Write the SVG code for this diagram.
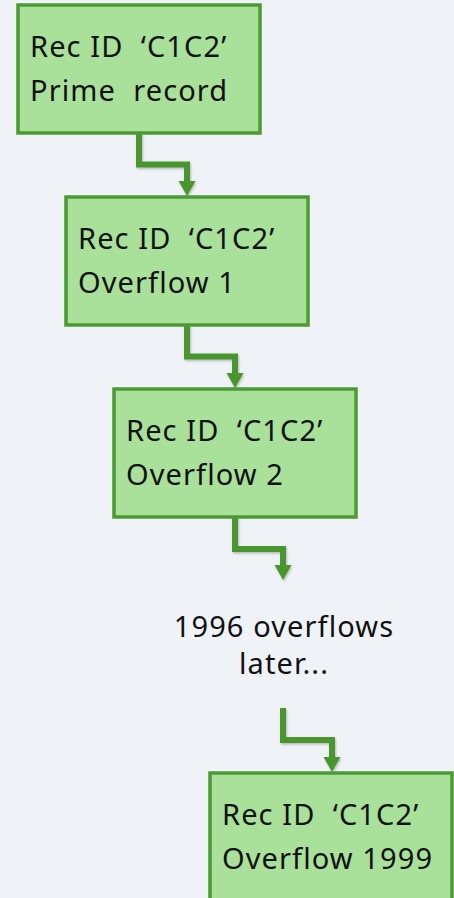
<svg xmlns="http://www.w3.org/2000/svg" width="454" height="898" viewBox="0 0 454 898">
  <defs>
    <style>
      .box { fill: #a9e09a; stroke: #4c9a34; stroke-width: 3.5; }
      .lbl { font-family: "Noto Sans", "Open Sans", sans-serif; font-size: 29px; letter-spacing: 1.1px; fill: #111111; white-space: pre; }
      .mid { text-anchor: middle; }
      .wire { fill: none; stroke: #4a962f; stroke-width: 6; stroke-linejoin: miter; }
      .head { fill: #4a962f; }
    </style>
    <filter id="soft" x="-20%" y="-20%" width="140%" height="140%">
      <feDropShadow dx="1" dy="1.5" stdDeviation="1.2" flood-color="#000000" flood-opacity="0.25"/>
    </filter>
  </defs>

  <rect x="0" y="0" width="454" height="898" fill="#eff3f7"/>

  <!-- connectors: elbow lines with arrowheads -->
  <g id="connectors" filter="url(#soft)">
    <path class="wire" d="M139 133 V164.5 H187 V182"/>
    <polygon class="head" points="178.5,181 195.5,181 187,196"/>

    <path class="wire" d="M187 325 V356.5 H235 V374"/>
    <polygon class="head" points="226.5,373 243.5,373 235,388"/>

    <path class="wire" d="M235 517 V549 H283 V566"/>
    <polygon class="head" points="274.5,565 291.5,565 283,580"/>

    <path class="wire" d="M283 708 V740 H332 V758"/>
    <polygon class="head" points="323.5,757 340.5,757 332,772"/>
  </g>

  <g id="prime">
    <rect class="box" x="18" y="5" width="242" height="128"/>
    <text class="lbl" x="30" y="57" xml:space="preserve">Rec ID  ‘C1C2’</text>
    <text class="lbl" x="30" y="101" xml:space="preserve">Prime  record</text>
  </g>

  <g id="overflow1">
    <rect class="box" x="66" y="197" width="242" height="128"/>
    <text class="lbl" x="78" y="249" xml:space="preserve">Rec ID  ‘C1C2’</text>
    <text class="lbl" x="78" y="293">Overflow 1</text>
  </g>

  <g id="overflow2">
    <rect class="box" x="114" y="389" width="242" height="128"/>
    <text class="lbl" x="126" y="441" xml:space="preserve">Rec ID  ‘C1C2’</text>
    <text class="lbl" x="126" y="485">Overflow 2</text>
  </g>

  <g id="gap">
    <text class="lbl mid" x="284" y="637">1996 overflows</text>
    <text class="lbl mid" x="284" y="674">later...</text>
  </g>

  <g id="overflow1999">
    <rect class="box" x="210" y="773" width="242" height="128"/>
    <text class="lbl" x="222" y="825" xml:space="preserve">Rec ID  ‘C1C2’</text>
    <text class="lbl" x="222" y="869">Overflow 1999</text>
  </g>
</svg>
